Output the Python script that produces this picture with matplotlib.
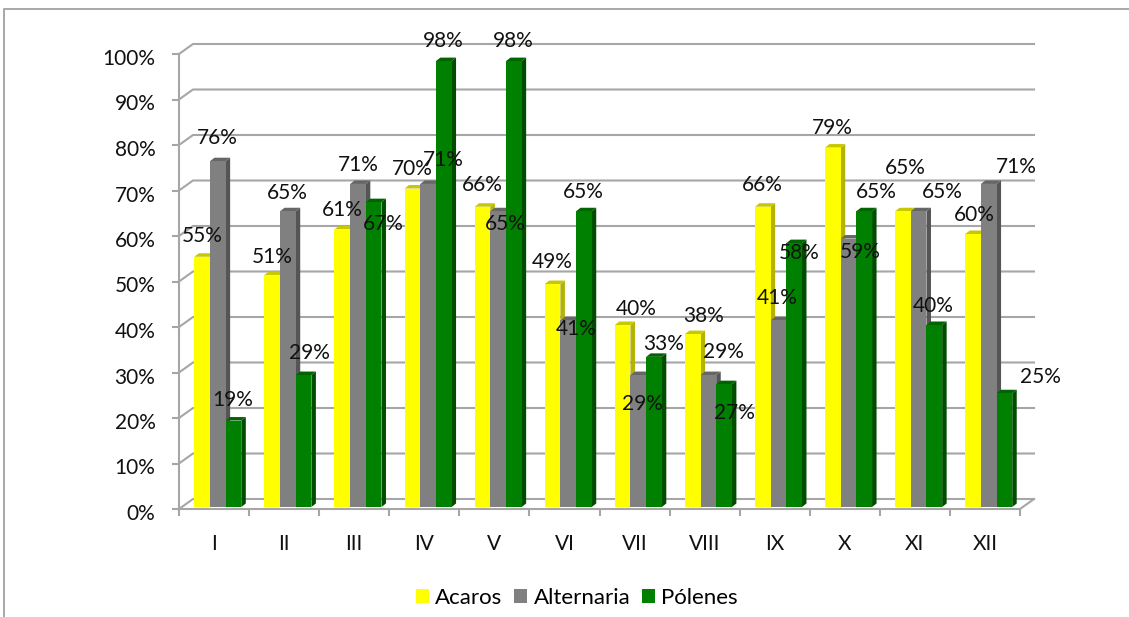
import matplotlib
matplotlib.use("Agg")
import matplotlib.pyplot as plt
from matplotlib.lines import Line2D
from matplotlib.patches import Patch, Polygon
from matplotlib.transforms import ScaledTranslation

plt.rcParams["font.family"] = ["Lato", "DejaVu Sans"]

months = ["I", "II", "III", "IV", "V", "VI", "VII", "VIII", "IX", "X", "XI", "XII"]
acaros = [55, 51, 61, 70, 66, 49, 40, 38, 66, 79, 65, 60]
alternaria = [76, 65, 71, 71, 65, 41, 29, 29, 41, 59, 65, 71]
polenes = [19, 29, 67, 98, 98, 65, 33, 27, 58, 65, 40, 25]

# label centres, in pixels from the top left of the figure
acaros_lbl = [(202, 235), (272, 256), (342, 209), (412, 168), (482, 184), (552, 261),
              (636, 308), (704, 315), (762, 184), (832, 127), (905, 167), (974, 214)]
alternaria_lbl = [(217, 137), (287, 192), (358, 164), (443, 159), (505, 223), (576, 328),
                  (642, 403), (723, 351), (777, 297), (860, 251), (942, 191), (1016, 166)]
polenes_lbl = [(233, 399), (309, 352), (383, 223), (443, 40), (513, 40), (583, 191),
               (664, 343), (734, 412), (799, 252), (876, 191), (933, 305), (1040, 376)]

W, H = 1129, 617
GRID = "#a6a6a6"
FS = 15

fig = plt.figure(figsize=(W / 100, H / 100), dpi=100)
ax = fig.add_axes([179 / W, (H - 509) / H, 841 / W, 455 / H])
ax.set_xlim(0, 12)
ax.set_ylim(0, 100)
ax.patch.set_visible(False)

# one pixel in data units
px = 12 / 841
py = 100 / 455
depth_x, depth_y = 14 * px, 10 * py

# ── back wall and floor ───────────────────────────────────────────────────────
for y in range(0, 101, 10):
    ax.plot([0, depth_x, 12 + depth_x], [y, y + depth_y, y + depth_y],
            color=GRID, lw=1.5, clip_on=False, zorder=1)
ax.plot([12, 12 + depth_x], [0, depth_y], color=GRID, lw=1.5, clip_on=False, zorder=1)

# ── 3d bars ───────────────────────────────────────────────────────────────────
bar_w = 15.67 * px
start = 15.3 * px
base = 2 * py
side_x, side_y = 4.5 * px, 3.5 * py
series = [
    (acaros, "#ffff00", "#c8c800", "#b3b300", "Acaros"),
    (alternaria, "#808080", "#666666", "#555555", "Alternaria"),
    (polenes, "#008000", "#006400", "#004d00", "Pólenes"),
]
for s, (vals, front, top, side, name) in enumerate(series):
    for i, v in enumerate(vals):
        x0 = i + start + s * bar_w
        x1 = x0 + bar_w
        y1 = v + base
        z = 3 + i * 3 + s
        ax.add_patch(Polygon([(x1, base), (x1 + side_x, base + side_y),
                              (x1 + side_x, y1 + side_y), (x1, y1)],
                             fc=side, ec="none", clip_on=False, zorder=z))
        ax.add_patch(Polygon([(x0, y1), (x0 + side_x, y1 + side_y),
                              (x1 + side_x, y1 + side_y), (x1, y1)],
                             fc=top, ec="none", clip_on=False, zorder=z))
        ax.bar(x0, v, bar_w, bottom=base, align="edge", color=front, lw=0, zorder=z + 0.5)

# ── axes ──────────────────────────────────────────────────────────────────────
for name in ["top", "right"]:
    ax.spines[name].set_visible(False)
for name in ["left", "bottom"]:
    ax.spines[name].set_color(GRID)
    ax.spines[name].set_linewidth(1.5)
    ax.spines[name].set_zorder(2)
ax.set_yticks(range(0, 101, 10))
ax.set_yticklabels([f"{y}%" for y in range(0, 101, 10)], fontsize=FS, color="#111111")
ax.tick_params(axis="y", length=5, width=1.5, color=GRID, pad=12)
# tick labels sit a little under their ticks
shift = ScaledTranslation(0, -3 / 100, fig.dpi_scale_trans)
for lbl in ax.get_yticklabels():
    lbl.set_transform(lbl.get_transform() + shift)
ax.set_xticks(range(13))
ax.set_xticklabels([])
ax.tick_params(axis="x", which="major", length=5, width=1.5, color=GRID)
ax.set_xticks([i + 0.5 for i in range(12)], minor=True)
ax.set_xticklabels(months, minor=True, fontsize=FS, color="#111111")
ax.tick_params(axis="x", which="minor", length=0, pad=18)

# ── value labels ──────────────────────────────────────────────────────────────
for vals, centres in [(acaros, acaros_lbl), (alternaria, alternaria_lbl), (polenes, polenes_lbl)]:
    for v, (cx, cy) in zip(vals, centres):
        ax.annotate(f"{v}%", xy=(cx, H - cy - 1), xycoords="figure pixels", ha="center",
                    va="center", fontsize=FS, color="#111111", zorder=100,
                    annotation_clip=False)

# ── legend and outer frame ────────────────────────────────────────────────────
handles = [Patch(fc=s[1], ec="none", label=s[4]) for s in series]
fig.legend(handles=handles, ncol=3, loc="center", bbox_to_anchor=(577 / W, (H - 597.5) / H),
           frameon=False, fontsize=16, handlelength=0.585, handleheight=0.585,
           handletextpad=0.27, columnspacing=0.54, borderpad=0)

fig.add_artist(Line2D([3.5 / W, 3.5 / W, 1], [0, (H - 9) / H, (H - 9) / H],
                      color="#a8a8a8", lw=1.4, transform=fig.transFigure))

fig.savefig("out.png", dpi=100)
